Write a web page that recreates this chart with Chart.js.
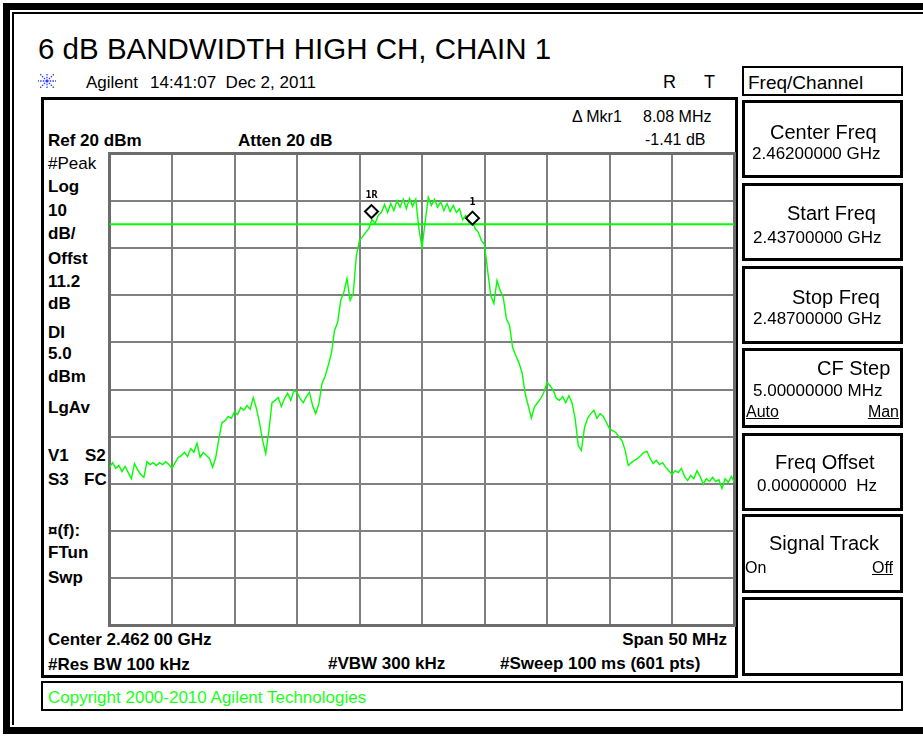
<!DOCTYPE html>
<html><head><meta charset="utf-8">
<script src="https://cdn.jsdelivr.net/npm/chart.js@4.4.0/dist/chart.umd.min.js"></script>
<style>
html,body{margin:0;padding:0;background:#fff;}
#page{position:relative;width:923px;height:736px;overflow:hidden;background:#fff;font-family:"Liberation Sans",Arial,sans-serif;color:#000;}
.t{position:absolute;white-space:nowrap;line-height:1;transform:translateY(-50%);}
.b{font-weight:bold;}
.l{font-size:17px;font-weight:bold;left:48px;}
.box{position:absolute;box-sizing:border-box;border:3px solid #000;}
.sk{font-size:20px;}
.sv{font-size:17px;}
u{text-decoration:underline;}
</style></head>
<body><div id="page">
<!-- outer frame -->
<div style="position:absolute;left:3px;top:3px;width:960px;height:731px;box-sizing:border-box;border:7px solid #000;border-right:none;"></div>
<div style="position:absolute;left:12px;top:12px;width:950px;height:713px;box-sizing:border-box;border-top:2px solid #000;border-left:2px solid #000;"></div>

<div class="t" style="left:38px;top:49px;font-size:29.5px;">6 dB BANDWIDTH HIGH CH, CHAIN 1</div>
<svg style="position:absolute;left:37px;top:72px;" width="20" height="18" viewBox="0 0 20 18">
 <g stroke="#2a3cff" stroke-width="1.3" stroke-dasharray="1.5 1.2">
  <line x1="10" y1="9" x2="10" y2="1"/><line x1="10" y1="9" x2="10" y2="17"/>
  <line x1="10" y1="9" x2="1" y2="9"/><line x1="10" y1="9" x2="19" y2="9"/>
  <line x1="10" y1="9" x2="3" y2="2"/><line x1="10" y1="9" x2="17" y2="16"/>
  <line x1="10" y1="9" x2="17" y2="2"/><line x1="10" y1="9" x2="3" y2="16"/>
 </g></svg>
<div class="t" style="left:86px;top:82px;font-size:17px;">Agilent</div>
<div class="t" style="left:150px;top:82px;font-size:17px;">14:41:07&nbsp; Dec 2, 2011</div>
<div class="t" style="left:663px;top:82px;font-size:18px;">R</div>
<div class="t" style="left:704px;top:82px;font-size:18px;">T</div>

<div class="box" style="left:742px;top:66px;width:161px;height:30px;border-width:2px;"></div>
<div class="t" style="left:748px;top:82px;font-size:19px;">Freq/Channel</div>

<!-- instrument screen -->
<div class="box" style="left:41px;top:97px;width:697px;height:581px;"></div>
<div class="t l" style="top:140px;">Ref 20 dBm</div>
<div class="t b" style="left:238px;top:140px;font-size:17px;">Atten 20 dB</div>
<div class="t" style="left:572px;top:117px;font-size:16px;">&#916; Mkr1</div>
<div class="t" style="left:643px;top:117px;font-size:16px;">8.08 MHz</div>
<div class="t" style="left:645px;top:140px;font-size:16px;">-1.41 dB</div>

<div class="t l" style="top:163px;font-weight:normal;">#Peak</div>
<div class="t l" style="top:186px;">Log</div>
<div class="t l" style="top:210px;">10</div>
<div class="t l" style="top:233px;">dB/</div>
<div class="t l" style="top:258px;">Offst</div>
<div class="t l" style="top:281px;">11.2</div>
<div class="t l" style="top:303px;">dB</div>
<div class="t l" style="top:332px;">DI</div>
<div class="t l" style="top:353px;">5.0</div>
<div class="t l" style="top:376px;">dBm</div>
<div class="t l" style="top:407px;">LgAv</div>
<div class="t l" style="top:455px;">V1</div>
<div class="t l" style="top:455px;left:85px;">S2</div>
<div class="t l" style="top:479px;">S3</div>
<div class="t l" style="top:479px;left:84px;">FC</div>
<div class="t l" style="top:530px;">&#164;(f):</div>
<div class="t l" style="top:552px;">FTun</div>
<div class="t l" style="top:577px;">Swp</div>
<div class="t l" style="top:639px;">Center 2.462 00 GHz</div>
<div class="t l" style="top:664px;">#Res BW 100 kHz</div>
<div class="t b" style="left:328px;top:663px;font-size:17px;">#VBW 300 kHz</div>
<div class="t b" style="left:500px;top:663px;font-size:17px;">#Sweep 100 ms (601 pts)</div>
<div class="t b" style="right:196px;top:639px;font-size:17px;">Span 50 MHz</div>

<div id="wrap" style="position:absolute;left:104px;top:148px;"><canvas id="c" width="635" height="482"></canvas></div>

<!-- softkeys -->
<div class="box" style="left:742px;top:100px;width:161px;height:78px;"></div>
<div class="t sk" style="left:770px;top:132px;">Center Freq</div>
<div class="t sv" style="left:752px;top:153px;">2.46200000 GHz</div>
<div class="box" style="left:742px;top:183px;width:161px;height:78px;"></div>
<div class="t sk" style="left:787px;top:213px;">Start Freq</div>
<div class="t sv" style="left:753px;top:237px;">2.43700000 GHz</div>
<div class="box" style="left:742px;top:266px;width:161px;height:78px;"></div>
<div class="t sk" style="left:792px;top:297px;">Stop Freq</div>
<div class="t sv" style="left:753px;top:318px;">2.48700000 GHz</div>
<div class="box" style="left:742px;top:348px;width:161px;height:80px;"></div>
<div class="t sk" style="left:817px;top:368px;">CF Step</div>
<div class="t sv" style="left:753px;top:390px;">5.00000000 MHz</div>
<div class="t" style="left:746px;top:412px;font-size:16px;"><u>Auto</u></div>
<div class="t" style="right:24px;top:412px;font-size:16px;"><u>Man</u></div>
<div class="box" style="left:742px;top:433px;width:161px;height:78px;"></div>
<div class="t sk" style="left:775px;top:462px;">Freq Offset</div>
<div class="t sv" style="left:757px;top:485px;">0.00000000&nbsp; Hz</div>
<div class="box" style="left:742px;top:514px;width:161px;height:79px;"></div>
<div class="t sk" style="left:769px;top:543px;">Signal Track</div>
<div class="t" style="left:745px;top:568px;font-size:16px;">On</div>
<div class="t" style="right:30px;top:568px;font-size:16px;"><u>Off</u></div>
<div class="box" style="left:742px;top:597px;width:161px;height:79px;"></div>

<div class="box" style="left:41px;top:681px;width:862px;height:30px;border-width:2px;"></div>
<div class="t" style="left:48px;top:697px;font-size:17px;color:#1aff1a;">Copyright 2000-2010 Agilent Technologies</div>
</div>
<script>
// Sweep settings (MHz)
const startFreq = 2437;
const stopFreq = 2487;
const freqStep = 0.25;
// Amplitude axis (dBm)
const refLevel = 20;
const bottomLevel = -80;
const dbPerDiv = 10;
const displayLine = 5.0;
// Trace levels (dBm), one per 0.25 MHz from 2437 MHz
const traceLevels = [
-46.5,-45.5,-46.7,-46.1,-47.4,-46.3,-47.6,-48.9,-45.7,-47.0,
-48.0,-48.6,-45.3,-45.9,-45.5,-46.1,-45.5,-45.9,-45.3,-45.9,
-46.7,-45.5,-44.4,-44.0,-43.3,-44.2,-42.5,-43.3,-41.4,-44.4,
-43.3,-44.0,-44.6,-46.5,-44.4,-40.4,-37.0,-36.6,-35.7,-36.1,
-34.7,-35.3,-33.8,-34.4,-33.4,-34.2,-31.7,-34.0,-37.0,-40.8,
-43.6,-38.7,-32.8,-32.3,-31.7,-33.6,-31.9,-30.8,-32.3,-30.2,
-30.6,-31.9,-32.8,-31.5,-30.6,-33.4,-35.1,-33.0,-28.7,-27.2,
-24.9,-22.4,-17.5,-15.8,-11.1,-9.4,-6.5,-11.1,-9.7,-1.6,
1.6,2.4,3.3,4.1,6.0,5.2,6.9,7.5,9.2,7.5,
9.4,7.9,10.0,8.6,10.3,8.3,10.5,8.8,10.3,4.1,
0.1,5.4,10.7,9.0,10.3,8.6,9.8,7.9,9.4,7.7,
9.0,7.5,8.3,6.0,6.9,5.4,5.8,4.1,3.3,1.6,
0.7,-4.8,-10.1,-11.8,-6.9,-9.0,-10.5,-15.0,-16.4,-21.1,
-22.8,-24.3,-26.4,-30.8,-33.4,-36.1,-33.6,-32.8,-31.9,-30.6,
-28.5,-29.2,-30.2,-31.9,-32.3,-31.5,-32.8,-31.3,-32.8,-36.1,
-41.9,-42.9,-38.1,-36.1,-35.1,-34.4,-36.1,-35.1,-35.7,-37.0,
-38.3,-38.7,-39.1,-40.0,-40.8,-42.9,-46.1,-45.5,-45.0,-44.6,
-44.0,-43.3,-43.1,-44.6,-45.7,-45.0,-45.9,-45.5,-46.5,-47.2,
-48.0,-47.2,-47.6,-46.7,-48.4,-49.3,-48.2,-48.9,-47.2,-48.4,
-50.1,-48.9,-49.5,-48.6,-49.5,-49.1,-51.0,-48.9,-49.7,-48.4,
-49.7
];
// Markers
const markerLabels = ['1R', '1'];
const markerFreqs = [2457.96, 2466.04];
const markerLevels = [7.7, 6.3];

const tracePts = traceLevels.map((v, i) => ({x: startFreq + i * freqStep, y: v}));
const dlPts = [{x: startFreq, y: displayLine}, {x: stopFreq, y: displayLine}];
const mkPts = markerFreqs.map((f, i) => ({x: f, y: markerLevels[i]}));

// Target plot rectangle on the page (px)
const AREA = {left: 109, top: 153, right: 734, bottom: 625};

const framePlugin = {
  id: 'frame',
  beforeDatasetsDraw(chart) {
    const {ctx, chartArea: a} = chart;
    ctx.save();
    ctx.strokeStyle = '#6c6c6c';
    ctx.lineWidth = 3;
    ctx.strokeRect(a.left, a.top, a.right - a.left, a.bottom - a.top);
    ctx.restore();
  },
  afterDatasetsDraw(chart) {
    const {ctx} = chart;
    const xs = chart.scales.x, ys = chart.scales.y;
    ctx.save();
    ctx.fillStyle = '#000';
    ctx.font = 'bold 10px "DejaVu Sans Mono", monospace';
    ctx.textAlign = 'center';
    ctx.textBaseline = 'middle';
    markerLabels.forEach((lab, i) => {
      const px = xs.getPixelForValue(markerFreqs[i]);
      const py = ys.getPixelForValue(markerLevels[i]);
      ctx.fillText(lab, px, py - 16);
    });
    ctx.restore();
  }
};

function config() {
  return {
    type: 'line',
    data: {
      datasets: [
        {data: mkPts, showLine: false, pointStyle: 'rectRot', pointRadius: 6.5, pointBorderWidth: 2,
         pointBorderColor: '#000', pointBackgroundColor: '#fff', order: 0, clip: false},
        {data: tracePts, borderColor: '#00ff00', borderWidth: 1.4, pointRadius: 0, tension: 0, order: 1},
        {data: dlPts, borderColor: '#00ff00', borderWidth: 2, pointRadius: 0, order: 2}
      ]
    },
    options: {
      responsive: false,
      animation: false,
      events: [],
      layout: {padding: 4},
      plugins: {legend: {display: false}, tooltip: {enabled: false}},
      scales: {
        x: {type: 'linear', min: startFreq, max: stopFreq,
            ticks: {display: false, stepSize: 5},
            grid: {color: '#808080', lineWidth: 2, drawTicks: false},
            border: {display: false}},
        y: {type: 'linear', min: bottomLevel, max: refLevel,
            ticks: {display: false, stepSize: dbPerDiv},
            grid: {color: '#808080', lineWidth: 2, drawTicks: false},
            border: {display: false}}
      }
    },
    plugins: [framePlugin]
  };
}

const wrap = document.getElementById('wrap');
let canvas = document.getElementById('c');
let chart = new Chart(canvas, config());
const a = chart.chartArea;
const W = canvas.width, H = canvas.height;
const newW = Math.round(W + (AREA.right - AREA.left) - (a.right - a.left));
const newH = Math.round(H + (AREA.bottom - AREA.top) - (a.bottom - a.top));
const newLeft = Math.round(AREA.left - a.left);
const newTop = Math.round(AREA.top - a.top);
chart.destroy();
canvas.remove();
canvas = document.createElement('canvas');
canvas.width = newW; canvas.height = newH;
wrap.appendChild(canvas);
wrap.style.left = newLeft + 'px';
wrap.style.top = newTop + 'px';
chart = new Chart(canvas, config());
</script>
</body></html>
